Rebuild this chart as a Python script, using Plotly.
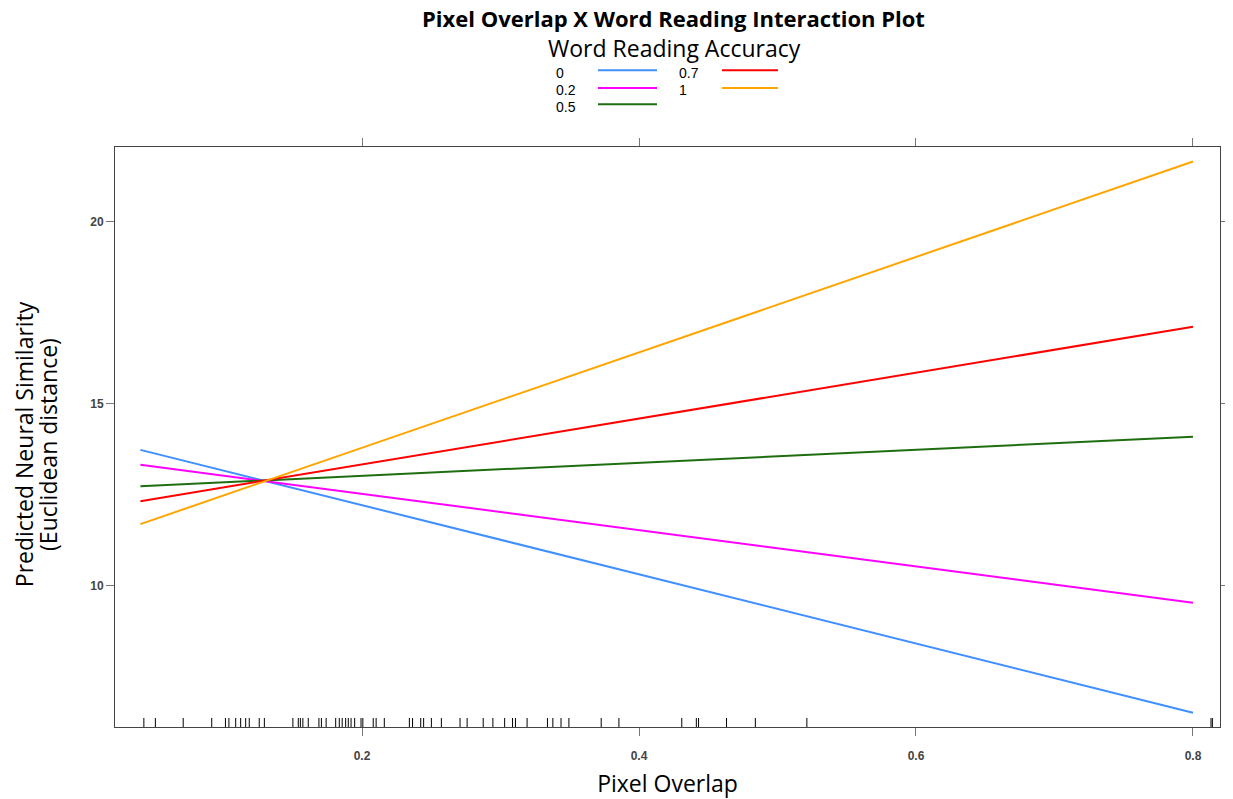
import plotly.graph_objects as go

# ---- data ----
accuracy_levels = ["0", "0.2", "0.5", "0.7", "1"]
line_colors = ["#3F8FFF", "#FF00FF", "#1E6E10", "#FF0000", "#FFA500"]
pixel_overlap = [0.04, 0.80]
pred_start = [13.74, 13.33, 12.74, 12.33, 11.70]
pred_end = [6.52, 9.54, 14.10, 17.12, 21.66]
rug_values = [0.0425, 0.0508, 0.0709, 0.0915, 0.1014, 0.1039, 0.1088, 0.1124,
              0.1160, 0.1186, 0.1258, 0.1295, 0.1501, 0.1540, 0.1555, 0.1573,
              0.1612, 0.1689, 0.1707, 0.1741, 0.1810, 0.1836, 0.1857, 0.1882,
              0.1901, 0.1921, 0.1947, 0.1993, 0.2006, 0.2081, 0.2102, 0.2161,
              0.2342, 0.2365, 0.2424, 0.2445, 0.2501, 0.2573, 0.2708, 0.2759,
              0.2875, 0.2945, 0.3030, 0.3087, 0.3108, 0.3192, 0.3339, 0.3378,
              0.3437, 0.3494, 0.3727, 0.3855, 0.4309, 0.4414, 0.4430, 0.4632,
              0.4840, 0.5212, 0.8130, 0.8140]
x_ticks = [0.2, 0.4, 0.6, 0.8]
y_ticks = [10, 15, 20]

fig = go.Figure()
for name, col, y0, y1 in zip(accuracy_levels, line_colors, pred_start, pred_end):
    fig.add_trace(go.Scatter(x=pixel_overlap, y=[y0, y1], mode="lines", name=name,
                             line=dict(color=col, width=2), showlegend=False))

# rug
for v in rug_values:
    fig.add_shape(type="line", xref="x", yref="y domain", x0=v, x1=v, y0=0, y1=0.0155,
                  line=dict(color="black", width=1))

# custom legend (labels left of line samples), positions in plot-area fractions
leg_cols = [(0.3972, 0.4371, 0.4905), (0.5086, 0.5493, 0.600)]
leg_text_rows = [1.1281, 1.0983, 1.0695]
leg_line_rows = [1.1322, 1.1017, 1.0736]
for i, (name, col) in enumerate(zip(accuracy_levels, line_colors)):
    c = i // 3
    r = i % 3
    lx, sx0, sx1 = leg_cols[c]
    fig.add_annotation(xref="paper", yref="paper", x=lx, y=leg_text_rows[r], text=name,
                       showarrow=False, xanchor="left", yanchor="middle",
                       font=dict(family="Liberation Sans, Arial", size=14, color="black"))
    fig.add_shape(type="line", xref="paper", yref="paper", x0=sx0, x1=sx1,
                  y0=leg_line_rows[r], y1=leg_line_rows[r], line=dict(color=col, width=2))

fig.add_annotation(xref="paper", yref="paper", x=0.5063, y=1.1707, text="Word Reading Accuracy",
                   showarrow=False, xanchor="center", yanchor="middle",
                   font=dict(family="Open Sans, Noto Sans", size=23, color="black"))

# y-axis title as two separate lines (tighter line spacing like the reference)
for txt, px in [("Predicted Neural Similarity", -0.0827), ("(Euclidean distance)", -0.0612)]:
    fig.add_annotation(xref="paper", yref="paper", x=px, y=0.487, text=txt, textangle=-90,
                       showarrow=False, xanchor="center", yanchor="middle",
                       font=dict(family="Open Sans, Noto Sans", size=23, color="black"))

axis_common = dict(showline=True, linecolor="#444444", linewidth=1, mirror="ticks",
                   ticks="outside", ticklen=8, tickcolor="#777777", showgrid=False,
                   zeroline=False, automargin=False,
                   tickfont=dict(family="Liberation Sans, Arial", size=12, color="#444444"))

fig.update_layout(
    width=1217, height=791,
    margin=dict(l=107, r=5, t=139, b=72),
    paper_bgcolor="white", plot_bgcolor="white",
    title=dict(text="<b>Pixel Overlap X Word Reading Interaction Plot</b>",
               x=0.5468, xanchor="center", y=0.9855, yanchor="middle",
               font=dict(family="Open Sans, Noto Sans", size=22, color="black")),
    xaxis=dict(range=[0.02166, 0.8195], tickvals=x_ticks,
               ticktext=["<b>%s</b>" % t for t in x_ticks], ticklabelstandoff=10,
               title=dict(text="Pixel Overlap", standoff=19,
                          font=dict(family="Open Sans, Noto Sans", size=23, color="black")),
               **axis_common),
    yaxis=dict(range=[6.126, 22.06], tickvals=y_ticks,
               ticktext=["<b>%s</b>" % t for t in y_ticks],
               **axis_common),
)

fig.write_html("out.html")
